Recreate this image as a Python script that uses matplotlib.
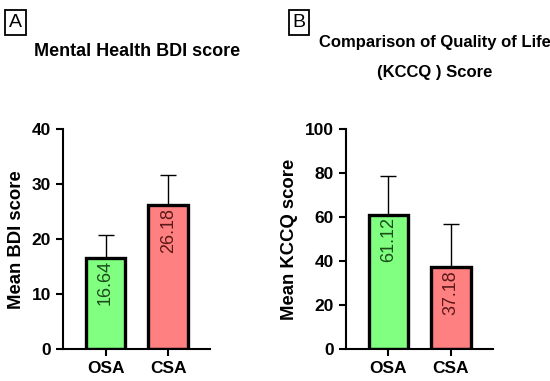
import matplotlib
matplotlib.use("Agg")
import matplotlib.pyplot as plt

plt.rcParams['font.family'] = ['Liberation Sans', 'DejaVu Sans']

groups = ["OSA", "CSA"]
bdi_mean = [16.64, 26.18]
bdi_err = [4.2, 5.5]
kccq_mean = [61.12, 37.18]
kccq_err = [17.7, 19.9]

bar_colors = ["#80ff80", "#ff8080"]
text_colors = ["#1c4a1c", "#5a1818"]

fig = plt.figure(figsize=(5.5, 3.81), dpi=100)
axA = fig.add_axes([0.1145, 0.084, 0.2675, 0.5766])
axB = fig.add_axes([0.6285, 0.084, 0.2675, 0.5766])


def draw(ax, means, errs, ymax, step, ylabel):
    x = range(len(groups))
    ax.bar(x, means, width=0.63, color=bar_colors, edgecolor="black", linewidth=2.4, zorder=2)
    ax.errorbar(x, means, yerr=[[0, 0], errs], fmt="none", ecolor="black",
                elinewidth=1.0, capsize=5.5, capthick=1.0, zorder=1)
    for i, v in enumerate(means):
        ax.text(i, v - ymax * 0.012, f"{v:.2f}", rotation=90, ha="center", va="top",
                fontsize=13, color=text_colors[i], zorder=3)
    ax.set_xlim(-0.68, 1.67)
    ax.set_ylim(0, ymax)
    ax.set_yticks(range(0, ymax + 1, step))
    ax.set_xticks(list(x))
    ax.set_xticklabels(groups)
    for s in ["top", "right"]:
        ax.spines[s].set_visible(False)
    for s in ["left", "bottom"]:
        ax.spines[s].set_linewidth(1.5)
    ax.tick_params(width=1.5, length=5, labelsize=12.5)
    for lab in ax.get_xticklabels() + ax.get_yticklabels():
        lab.set_fontweight("bold")
    ax.set_ylabel(ylabel, fontsize=13.3, fontweight="bold", labelpad=5)


draw(axA, bdi_mean, bdi_err, 40, 10, "Mean BDI score")
draw(axB, kccq_mean, kccq_err, 100, 20, "Mean KCCQ score")

fig.text(137 / 550, 1 - 52 / 381, "Mental Health BDI score", ha="center", va="center",
         fontsize=13, fontweight="bold")
fig.text(435 / 550, 1 - 42 / 381, "Comparison of Quality of Life", ha="center",
         va="center", fontsize=12, fontweight="bold")
fig.text(435 / 550, 1 - 72 / 381, "(KCCQ ) Score", ha="center",
         va="center", fontsize=12, fontweight="bold")

fig.text(15.5 / 550, 1 - 22.5 / 381, "A", ha="center", va="center", fontsize=14,
         bbox=dict(boxstyle="square,pad=0.2", fc="white", ec="black", lw=1.3))
fig.text(299 / 550, 1 - 22.5 / 381, "B", ha="center", va="center", fontsize=14,
         bbox=dict(boxstyle="square,pad=0.2", fc="white", ec="black", lw=1.3))

fig.savefig("out.png", dpi=100)
